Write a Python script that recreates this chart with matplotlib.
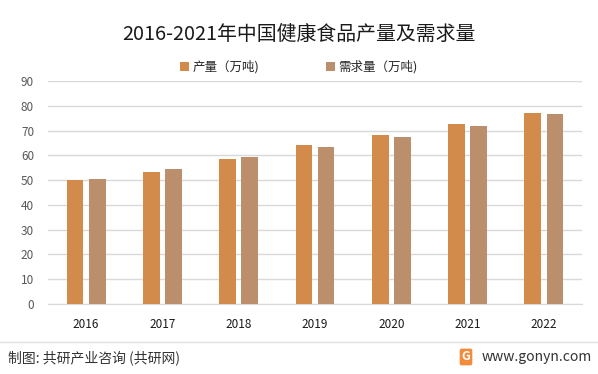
import matplotlib.pyplot as plt
import numpy as np

plt.rcParams['font.family'] = ['Noto Sans CJK SC', 'DejaVu Sans']

years = ['2016', '2017', '2018', '2019', '2020', '2021', '2022']
output = [50.1, 53.3, 58.6, 64.0, 68.1, 72.7, 77.0]
demand = [50.6, 54.6, 59.2, 63.3, 67.3, 71.8, 76.6]

c_out = '#D38B4C'
c_dem = '#BC8F6C'

fig = plt.figure(figsize=(5.98, 3.74), dpi=100)
ax = fig.add_axes([48 / 598, 1 - 304 / 374, 534 / 598, 223 / 374])

x = np.arange(len(years))
w = 0.22
ax.bar(x - 0.145, output, w, color=c_out, label='产量（万吨)', zorder=3)
ax.bar(x + 0.145, demand, w, color=c_dem, label='需求量（万吨)', zorder=3)

ax.set_xlim(-0.5, len(years) - 0.5)
ax.set_ylim(0, 90)
ax.set_yticks(range(0, 91, 10))
ax.set_xticks(x)
ax.set_xticklabels(years)
ax.grid(axis='y', color='#D9D9D9', linewidth=1, zorder=0)
for s in ['top', 'right', 'left']:
    ax.spines[s].set_visible(False)
ax.spines['bottom'].set_color('#D9D9D9')
ax.tick_params(axis='both', length=0, labelsize=8.5)
ax.tick_params(axis='x', pad=10, colors='#1A1A1A')
ax.tick_params(axis='y', pad=10, colors='#595959')

fig.text(0.5, 1 - 34 / 374, '2016-2021年中国健康食品产量及需求量', ha='center', va='center',
         fontsize=14.3, color='#1A1A1A')
ax.legend(loc='center', bbox_to_anchor=(0.5, 1 - 67 / 374), bbox_transform=fig.transFigure,
          ncol=2, frameon=False, fontsize=9, handlelength=0.7, handleheight=0.7,
          columnspacing=5.3, handletextpad=0.3, labelcolor='#262626')

# footer
fig.add_artist(plt.Line2D([0, 1], [1 - 342 / 374, 1 - 342 / 374], color='#E0E0E0', linewidth=1))
fig.text(8 / 598, 1 - 358 / 374, '制图: 共研产业咨询 (共研网)', ha='left', va='center',
         fontsize=10, color='#333333')
fig.text(592 / 598, 1 - 357 / 374, 'www.gonyn.com', ha='right', va='center',
         fontsize=10, color='#333333')
fig.text(466 / 598, 1 - 357 / 374, 'G', ha='center', va='center', fontsize=9,
         fontweight='bold', color='white',
         bbox=dict(boxstyle='round,pad=0.15', fc='#F08C3C', ec='none'))

fig.savefig('out.png', dpi=100)
